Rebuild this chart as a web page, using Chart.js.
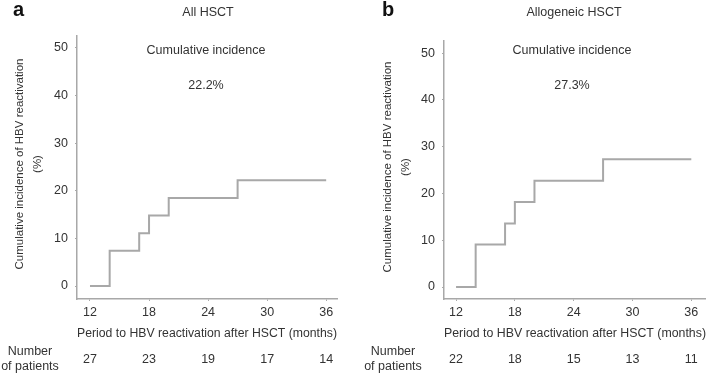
<!DOCTYPE html>
<html>
<head>
<meta charset="utf-8">
<script src="https://cdn.jsdelivr.net/npm/chart.js@4/dist/chart.umd.min.js"></script>
<style>
  html, body { margin: 0; padding: 0; background: #fff; }
  #wrap { position: relative; width: 706px; height: 374px; overflow: hidden; }
  .panel { position: absolute; top: 0; width: 353px; height: 374px; }
</style>
</head>
<body>
<div id="wrap">
  <div class="panel" style="left:0"><canvas id="ca"></canvas></div>
  <div class="panel" style="left:353px"><canvas id="cb"></canvas></div>
</div>
<script>
// ---- data ----
const monthsA = [12, 14, 17, 18, 20, 27, 36];
const incidenceA = [0, 7.4, 11.1, 14.8, 18.5, 22.2, 22.2];
const monthsB = [12, 14, 17, 18, 20, 27, 36];
const incidenceB = [0, 9.1, 13.6, 18.2, 22.7, 27.3, 27.3];
const xTicks = [12, 18, 24, 30, 36];
const yTicks = [0, 10, 20, 30, 40, 50];
const atRiskA = [27, 23, 19, 17, 14];
const atRiskB = [22, 18, 15, 13, 11];
const panelLetters = ['a', 'b'];
const panelTitles = ['All HSCT', 'Allogeneic HSCT'];
const incidenceLabels = ['22.2%', '27.3%'];
const yTitle = ['Cumulative incidence of HBV reactivation', '(%)'];
const xTitle = 'Period to HBV reactivation after HSCT (months)';
const atRiskTitle = ['Number', 'of patients'];

const FONT = '"Liberation Sans", Arial, Helvetica, sans-serif';
const TXT = '#333';
const GRAY = '#a8a8a8';

function makePanel(id, months, inc, atRisk, idx, geo) {
  const extra = {
    id: 'extra' + idx,
    afterDraw(chart) {
      const ctx = chart.ctx;
      const xs = chart.scales.x;
      ctx.save();
      ctx.fillStyle = '#111';
      ctx.font = 'bold 20px ' + FONT;
      ctx.textAlign = 'left';
      ctx.textBaseline = 'alphabetic';
      ctx.fillText(panelLetters[idx], geo.letterX, 16);
      ctx.fillStyle = TXT;
      ctx.font = '12.5px ' + FONT;
      ctx.textAlign = 'center';
      ctx.textBaseline = 'middle';
      ctx.fillText(panelTitles[idx], geo.titleX, 13);
      ctx.fillText('Cumulative incidence', geo.ciX, 51);
      ctx.fillText(incidenceLabels[idx], geo.ciX, 86);
      ctx.fillText(atRiskTitle[0], geo.nX, 352);
      ctx.fillText(atRiskTitle[1], geo.nX, 367);
      atRisk.forEach((n, i) => {
        ctx.fillText(String(n), xs.getPixelForValue(xTicks[i]), 360);
      });
      // rotated y-axis title
      ctx.font = '11.5px ' + FONT;
      ctx.save();
      ctx.translate(geo.yt1X, geo.ytY);
      ctx.rotate(-Math.PI / 2);
      ctx.fillText(yTitle[0], 0, 0);
      ctx.restore();
      ctx.save();
      ctx.translate(geo.yt2X, geo.ytY);
      ctx.rotate(-Math.PI / 2);
      ctx.fillText(yTitle[1], 0, 0);
      ctx.restore();
      ctx.restore();
    }
  };
  return new Chart(document.getElementById(id), {
    type: 'line',
    data: {
      datasets: [{
        data: months.map((m, i) => ({ x: m, y: inc[i] })),
        stepped: true,
        borderColor: GRAY,
        borderWidth: 2,
        pointRadius: 0,
        fill: false
      }]
    },
    options: {
      responsive: false,
      animation: false,
      devicePixelRatio: 1,
      layout: { padding: { top: geo.top, right: geo.right, left: 0, bottom: 0 } },
      plugins: { legend: { display: false }, tooltip: { enabled: false } },
      scales: {
        x: {
          type: 'linear',
          min: geo.xmin, max: geo.xmax,
          afterBuildTicks: s => { s.ticks = xTicks.map(v => ({ value: v })); },
          afterFit: s => { s.height = 75; },
          grid: { display: true, drawOnChartArea: false, drawTicks: true, tickLength: 2, color: GRAY, lineWidth: 1 },
          border: { display: true, color: GRAY, width: 1.5 },
          ticks: { padding: 4, color: TXT, font: { family: FONT, size: 12.5 }, maxRotation: 0, autoSkip: false },
          title: { display: true, text: xTitle, color: TXT, font: { family: FONT, size: 12.5 }, padding: { top: 0, bottom: 32.5 } }
        },
        y: {
          type: 'linear',
          min: geo.ymin, max: geo.ymax,
          afterBuildTicks: s => { s.ticks = yTicks.map(v => ({ value: v })); },
          afterFit: s => { s.width = geo.left; },
          grid: { display: true, drawOnChartArea: false, drawTicks: true, tickLength: 2, color: GRAY, lineWidth: 1 },
          border: { display: true, color: GRAY, width: 1.5 },
          ticks: { padding: 7, color: TXT, font: { family: FONT, size: 12.5 } },
          title: { display: false }
        }
      }
    },
    plugins: [extra]
  });
}

function sizeCanvas(id) {
  const c = document.getElementById(id);
  c.width = 353; c.height = 374;
  c.style.width = '353px'; c.style.height = '374px';
}
sizeCanvas('ca'); sizeCanvas('cb');

makePanel('ca', monthsA, incidenceA, atRiskA, 0, {
  top: 36, right: 16, left: 77, xmin: 10.68, xmax: 37.1, ymin: -2.73, ymax: 52.5,
  yt1X: 20, yt2X: 38, ytY: 164, letterX: 13, titleX: 208, ciX: 206, nX: 30
});
makePanel('cb', monthsB, incidenceB, atRiskB, 1, {
  top: 41, right: 0, left: 91, xmin: 10.77, xmax: 37.5, ymin: -2.56, ymax: 52.6,
  yt1X: 35, yt2X: 53, ytY: 167, letterX: 29, titleX: 221, ciX: 219, nX: 40
});
</script>
</body>
</html>
